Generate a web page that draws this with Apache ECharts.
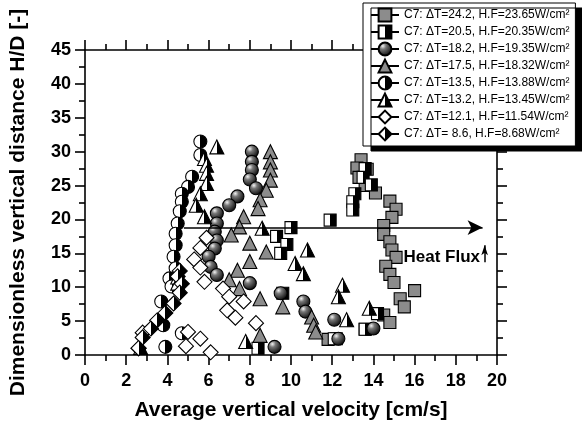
<!DOCTYPE html>
<html>
<head>
<meta charset="utf-8">
<script src="https://cdn.jsdelivr.net/npm/echarts@6/dist/echarts.min.js"></script>
<style>
html, body { margin: 0; padding: 0; background: #fff; }
#chart { width: 582px; height: 432px; }
</style>
</head>
<body>
<div id="chart"></div>
<script>
// legend labels
var names = [
  'C7: \u0394T=24.2, H.F=23.65W/cm\u00b2',
  'C7: \u0394T=20.5, H.F=20.35W/cm\u00b2',
  'C7: \u0394T=18.2, H.F=19.35W/cm\u00b2',
  'C7: \u0394T=17.5, H.F=18.32W/cm\u00b2',
  'C7: \u0394T=13.5, H.F=13.88W/cm\u00b2',
  'C7: \u0394T=13.2, H.F=13.45W/cm\u00b2',
  'C7: \u0394T=12.1, H.F=11.54W/cm\u00b2',
  'C7: \u0394T= 8.6, H.F=8.68W/cm\u00b2'
]

// [velocity cm/s, H/D]
var dt242 = [[13.4,28.8],[13.2,27.6],[13.7,27.4],[13.3,26.2],[13.6,25.0],[14.1,23.9],[14.8,22.7],[15.1,21.5],
  [14.9,20.3],[14.5,19.1],[14.5,17.8],[14.8,16.7],[14.9,15.5],[15.1,14.4],[14.6,13.1],[14.8,11.9],[15.0,10.7],
  [16.0,9.5],[15.3,8.3],[15.5,7.1],[14.5,5.9],[14.8,4.8],[13.6,3.8],[11.8,2.3],[12.2,2.4]]
var dt205 = [[13.6,27.5],[13.5,26.2],[13.9,25.1],[13.1,23.8],[13.0,22.6],[13.0,21.4],[11.9,19.9],[10.0,18.8],
  [9.3,17.5],[9.8,16.3],[9.5,15.0],[9.6,9.1],[14.2,6.1],[13.6,3.8],[12.1,2.4],[8.4,1.0]]
var dt182 = [[8.1,30.0],[8.1,28.5],[8.1,27.3],[8.0,25.9],[8.3,24.6],[7.4,23.4],[7.0,22.1],[6.4,20.9],[6.4,19.4],
  [6.3,18.2],[6.4,16.9],[6.3,15.7],[6.0,14.5],[6.1,13.0],[6.4,11.8],[8.0,10.6],[9.5,9.1],[10.6,7.9],[10.7,6.4],
  [12.1,5.2],[12.3,2.4],[9.2,1.2],[14.0,3.9]]
var dt175 = [[9.0,30.0],[9.0,28.5],[9.0,27.3],[9.0,25.8],[8.8,24.3],[8.5,22.9],[8.4,21.6],[7.7,20.4],[7.5,18.9],
  [7.1,17.7],[8.0,16.5],[8.8,15.2],[8.0,13.8],[7.4,12.5],[7.0,11.1],[7.5,9.8],[8.5,8.3],[9.6,7.1],[11.0,5.6],
  [11.1,4.4],[11.2,3.4],[8.5,2.9]]
var dt135 = [[5.6,31.5],[5.6,29.5],[5.2,26.3],[5.0,24.8],[4.7,23.8],[4.7,22.6],[4.6,21.2],[4.5,19.4],[4.4,17.9],
  [4.4,16.2],[4.3,14.5],[4.4,12.8],[4.1,11.3],[4.2,10.1],[3.7,7.9],[3.8,4.4],[4.7,3.2],[3.9,1.2]]
var dt132 = [[6.4,30.7],[5.8,29.0],[5.9,28.0],[5.9,26.8],[5.9,25.3],[5.6,23.8],[5.4,22.1],[5.8,20.4],[8.6,18.7],
  [10.8,15.5],[10.2,13.5],[10.6,12.0],[12.5,10.3],[12.3,8.6],[12.7,5.2],[13.8,6.9],[7.8,2.0],[4.5,11.5],
  [4.5,10.6],[2.7,1.1]]
var dt121 = [[5.9,17.3],[5.6,15.8],[5.3,14.1],[5.6,12.9],[5.8,10.8],[6.7,9.8],[7.0,8.6],[7.7,7.9],[6.9,6.6],
  [7.3,5.5],[8.3,4.7],[5.6,2.4],[5.0,3.4],[4.9,1.3],[6.1,0.4],[2.8,3.3],[2.6,1.0]]
var dt86 = [[4.6,12.4],[4.5,11.6],[4.7,10.5],[4.6,9.2],[4.3,7.6],[3.9,6.2],[3.5,5.1],[3.2,3.9],[2.8,2.6],[2.6,1.0]]

// heat flux arrows
var arrowH = [[4.8, 18.8], [19.3, 18.8]]
var arrowV = [[19.4, 13.7], [19.4, 16.2]]

var font = '"Liberation Sans", Arial, sans-serif'
var chart = echarts.init(document.getElementById('chart'))

// left half white, right half black
function half () {
  return new echarts.graphic.LinearGradient(0, 0, 1, 0, [
    { offset: 0, color: '#fff' }, { offset: 0.5, color: '#fff' },
    { offset: 0.5, color: '#000' }, { offset: 1, color: '#000' }
  ])
}
var sphere = new echarts.graphic.RadialGradient(0.35, 0.3, 0.75, [
  { offset: 0, color: '#f2f2f2' }, { offset: 0.3, color: '#777' }, { offset: 1, color: '#000' }
])

function pts (name, data, symbol, size, fill) {
  return {
    name: name,
    type: 'line',
    data: data,
    symbol: symbol,
    symbolSize: size,
    showSymbol: true,
    lineStyle: { width: 0, opacity: 0 },
    itemStyle: { color: fill, borderColor: '#000', borderWidth: 1.1, opacity: 1 },
    emphasis: { disabled: true },
    silent: true,
    z: 3
  }
}

function tickAxis (pos, isX) {
  return {
    type: 'value',
    position: pos,
    min: 0,
    max: isX ? 20 : 45,
    interval: isX ? 2 : 5,
    axisLine: { show: true, onZero: false, lineStyle: { color: '#000', width: 1.6 } },
    axisTick: { show: true, length: 10, lineStyle: { color: '#000', width: 1.6 } },
    minorTick: { show: true, splitNumber: 2, length: 6, lineStyle: { color: '#000', width: 1.6 } },
    splitLine: { show: false },
    axisLabel: { show: false }
  }
}

var xBottom = tickAxis('bottom', true)
xBottom.axisLabel = { show: true, color: '#000', fontFamily: font, fontWeight: 'bold', fontSize: 18, margin: 17 }
xBottom.name = 'Average vertical velocity [cm/s]'
xBottom.nameLocation = 'middle'
xBottom.nameGap = 45
xBottom.nameTextStyle = { color: '#000', fontFamily: font, fontWeight: 'bold', fontSize: 21 }

var yLeft = tickAxis('left', false)
yLeft.axisLabel = { show: true, color: '#000', fontFamily: font, fontWeight: 'bold', fontSize: 18, margin: 14 }
yLeft.name = 'Dimensionless vertical distance H/D [-]'
yLeft.nameLocation = 'middle'
yLeft.nameGap = 56
yLeft.nameTextStyle = { color: '#000', fontFamily: font, fontWeight: 'bold', fontSize: 21 }

var option = {
  backgroundColor: '#fff',
  animation: false,
  grid: { left: 84, right: 85, top: 50, bottom: 77 },
  xAxis: [xBottom, tickAxis('top', true)],
  yAxis: [yLeft, tickAxis('right', false)],
  legend: {
    data: names,
    orient: 'vertical',
    left: 363,
    top: 3,
    padding: [4, 6, 4, 7],
    itemWidth: 28,
    itemHeight: 16,
    itemGap: 1,
    selectedMode: false,
    backgroundColor: '#fff',
    borderColor: '#000',
    borderWidth: 1,
    shadowColor: '#000',
    shadowBlur: 0,
    shadowOffsetX: 8,
    shadowOffsetY: 5,
    textStyle: { color: '#000', fontFamily: font, fontSize: 12, lineHeight: 16 },
    lineStyle: { color: '#000', width: 2, opacity: 1, type: 'solid' }
  },
  graphic: [{
    type: 'text',
    x: 480,
    y: 257,
    style: { text: 'Heat Flux', fill: '#000', font: 'bold 17px ' + font, align: 'right', verticalAlign: 'middle' }
  }],
  series: [
    pts(names[0], dt242, 'rect', 12, '#8c8c8c'),
    pts(names[1], dt205, 'rect', 12, half()),
    pts(names[2], dt182, 'circle', 13, sphere),
    pts(names[3], dt175, 'triangle', 14, '#8c8c8c'),
    pts(names[4], dt135, 'circle', 13, half()),
    pts(names[5], dt132, 'triangle', 14, half()),
    pts(names[6], dt121, 'diamond', 15, '#fff'),
    pts(names[7], dt86, 'diamond', 15, half()),
    {
      name: 'arrow',
      type: 'line',
      data: [],
      silent: true,
      z: 2,
      markLine: {
        silent: true,
        animation: false,
        symbol: ['none', 'arrow'],
        label: { show: false },
        lineStyle: { color: '#000', width: 1.5, type: 'solid' },
        emphasis: { disabled: true },
        data: [
          [{ coord: arrowH[0], symbol: 'none' }, { coord: arrowH[1], symbol: 'arrow', symbolSize: [11, 15] }],
          [{ coord: arrowV[0], symbol: 'none' }, { coord: arrowV[1], symbol: 'arrow', symbolSize: [5, 10] }]
        ]
      }
    }
  ]
}
chart.setOption(option)
</script>
</body>
</html>
